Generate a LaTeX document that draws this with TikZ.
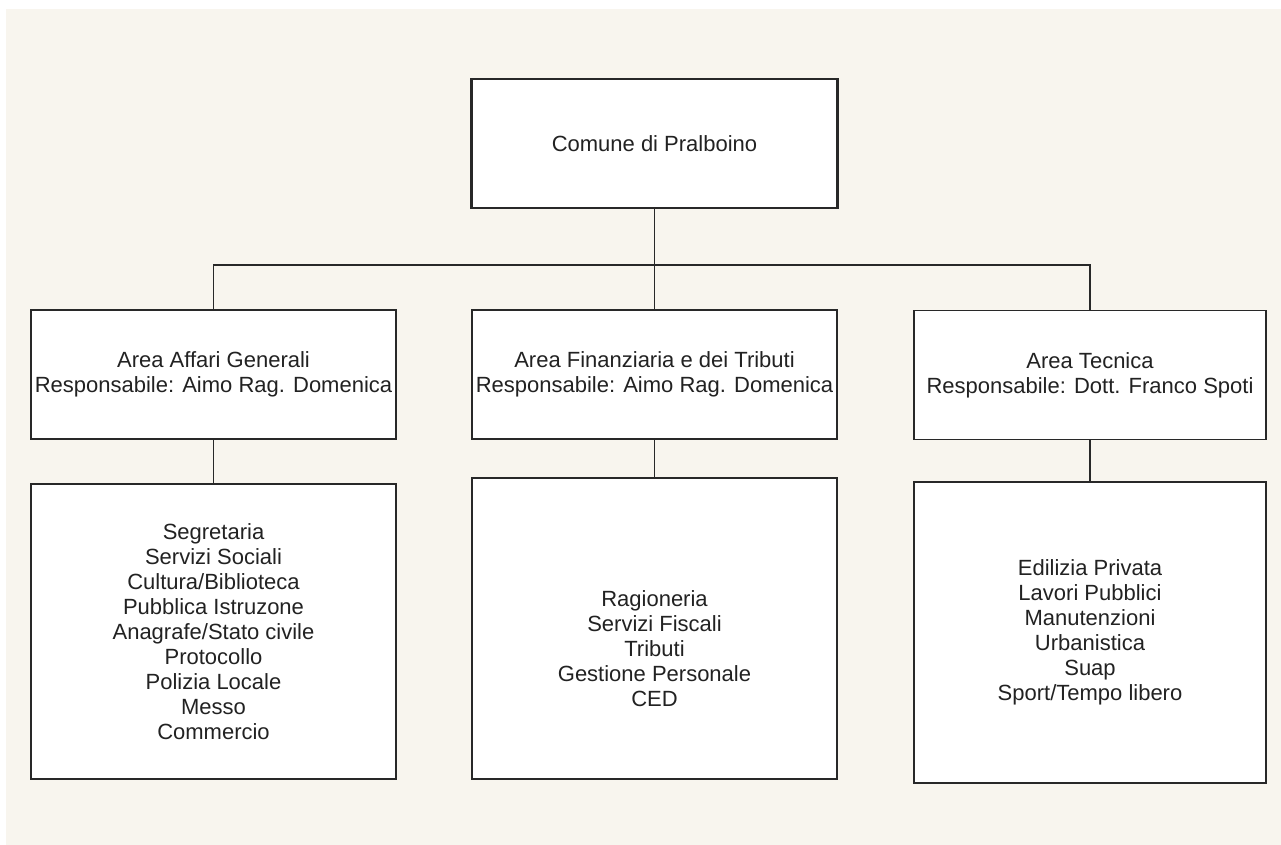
\documentclass[tikz,border=0pt]{standalone}
\usepackage{fontspec}
\setmainfont{Liberation Sans}
\usetikzlibrary{positioning}
\definecolor{carta}{RGB}{248,245,238}
\definecolor{tratto}{RGB}{40,40,40}
\definecolor{testo}{RGB}{34,34,34}
\begin{document}
\begin{tikzpicture}[x=1pt,y=-1pt]
\tikzset{font=\fontsize{22}{25}\selectfont}
\tikzset{every node/.style={text=testo}}
\tikzset{box/.style={draw=tratto, line width=1.3pt, fill=white, inner sep=0pt, align=center}}
\tikzset{rootbox/.style={box, line width=2.6pt, minimum width=366, minimum height=129}}
\tikzset{areabox/.style={box, minimum width=365, minimum height=129}}
\tikzset{listbox/.style={box, minimum width=365, minimum height=297}}
\tikzset{listtext/.style={align=center, inner sep=0pt}}
\tikzset{link/.style={draw=tratto, line width=1.3pt}}
\useasboundingbox (0,0) rectangle (1281,845);
\fill[white] (0,0) rectangle (1281,845);
\fill[carta] (6,9) rectangle (1281,845);
\node[rootbox] (comune) at (654.5,143.5) {Comune di Pralboino};
\node[areabox] (affari) at (213.5,374.5) {Area Affari Generali\\Responsabile: Aimo Rag. Domenica};
\node[areabox] (finanza) at (654.5,374.5) {Area Finanziaria e dei Tributi\\Responsabile: Aimo Rag. Domenica};
\node[areabox, minimum width=352] (tecnica) at (1090,375) {Area Tecnica\\Responsabile: Dott. Franco Spoti};
\node[listbox, minimum height=295] (affarilist) at (213.5,631.5) {};
\node[listbox, minimum height=301] (finanzalist) at (654.5,628.5) {};
\node[listbox, minimum width=352, minimum height=301] (tecnicalist) at (1090,632.5) {};
\node[listtext] (affaritxt) at (affarilist.center) {Segretaria\\Servizi Sociali\\Cultura/Biblioteca\\Pubblica Istruzone\\Anagrafe/Stato civile\\Protocollo\\Polizia Locale\\Messo\\Commercio};
\node[listtext] (finanzatxt) at ([yshift=-20]finanzalist.center) {Ragioneria\\Servizi Fiscali\\Tributi\\Gestione Personale\\CED};
\node[listtext] (tecnicatxt) at (tecnicalist.center) {Edilizia Privata\\Lavori Pubblici\\Manutenzioni\\Urbanistica\\Suap\\Sport/Tempo libero};
\coordinate (bus) at (654.5,265);
\draw[link] (comune.south) -- (bus);
\draw[link] (affari.north) |- (bus) -| (tecnica.north);
\draw[link] (bus) -- (finanza.north);
\draw[link] (affari) -- (affarilist);
\draw[link] (finanza) -- (finanzalist);
\draw[link] (tecnica) -- (tecnicalist);
\end{tikzpicture}
\end{document}
